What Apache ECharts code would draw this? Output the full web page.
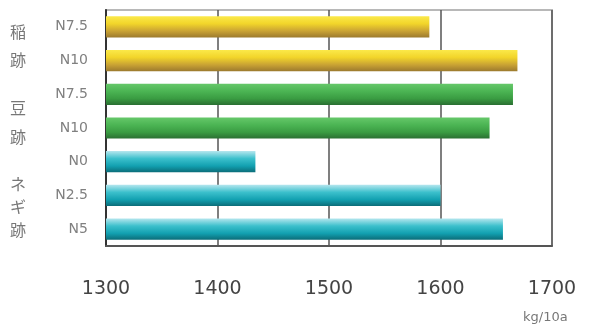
<!DOCTYPE html>
<html>
<head>
<meta charset="utf-8">
<script src="https://cdn.jsdelivr.net/npm/echarts@6/dist/echarts.min.js"></script>
<style>
  html, body { margin: 0; padding: 0; background: #fff; }
  #main { width: 608px; height: 329px; }
</style>
</head>
<body>
<div id="main"></div>
<script>
// treatments, top to bottom
const treatments = ['N7.5', 'N10', 'N7.5', 'N10', 'N0', 'N2.5', 'N5'];
const groupOf = [0, 0, 1, 1, 2, 2, 2];
const yields = [1590, 1669, 1665, 1644, 1434, 1600, 1656];
const groupNames = ['稲跡', '豆跡', 'ネギ跡'];
const xTicks = [1300, 1400, 1500, 1600, 1700];

// gradient stops per group (top -> bottom of the bar)
const groupColors = [
    ['#fbe94a', '#f2d52a', '#c9a234', '#9c7a2e'],
    ['#66c86a', '#4cb554', '#3a9c42', '#2a6f32'],
    ['#b4e6ee', '#3cc0cc', '#12a0b0', '#0b6c78']
];

function grad(c){
    return new echarts.graphic.LinearGradient(0, 0, 0, 1, [
        {offset: 0, color: c[0]},
        {offset: 0.35, color: c[1]},
        {offset: 0.7, color: c[2]},
        {offset: 1, color: c[3]}
    ]);
}

const barData = yields.map(function(v, i){
    return {value: v, itemStyle: {color: grad(groupColors[groupOf[i]])}};
});

// group label layout (vertical text on the left)
const groupPos = [
    {y: 46, lh: 28},
    {y: 122, lh: 29},
    {y: 207, lh: 23}
];

const chart = echarts.init(document.getElementById('main'));

chart.setOption({
    animation: false,
    grid: {
        left: 106, right: 56, top: 10, bottom: 83,
        show: true,
        borderColor: '#b8b8b8',
        borderWidth: 2
    },
    xAxis: {
        type: 'value',
        min: xTicks[0],
        max: xTicks[xTicks.length - 1],
        interval: 100,
        axisLine: {show: true, lineStyle: {color: '#555', width: 2}},
        axisTick: {show: false},
        splitLine: {show: true, lineStyle: {color: '#555', width: 1.5}},
        axisLabel: {
            margin: 34,
            color: '#444',
            fontFamily: 'DejaVu Sans',
            fontSize: 19,
            formatter: function(v){ return String(v); }
        }
    },
    yAxis: {
        type: 'category',
        inverse: true,
        data: treatments,
        axisLine: {show: true, lineStyle: {color: '#333', width: 2}},
        axisTick: {show: false},
        axisLabel: {
            margin: 18,
            color: '#808080',
            fontFamily: 'DejaVu Sans',
            fontSize: 14,
            padding: [6, 0, 0, 0]
        }
    },
    series: [{
        type: 'bar',
        data: barData,
        barCategoryGap: '37%'
    }],
    graphic: groupNames.map(function(name, g){
        return {
            type: 'text',
            left: 10,
            top: groupPos[g].y - groupPos[g].lh * name.length / 2,
            style: {
                text: name.split('').join('\n'),
                fill: '#777',
                font: '16px "Noto Sans CJK JP"',
                lineHeight: groupPos[g].lh,
                align: 'left'
            }
        };
    }).concat([{
        type: 'text',
        left: 523,
        top: 311,
        style: {
            text: 'kg/10a',
            fill: '#777',
            font: '13px "DejaVu Sans"'
        }
    }])
});
</script>
</body>
</html>
